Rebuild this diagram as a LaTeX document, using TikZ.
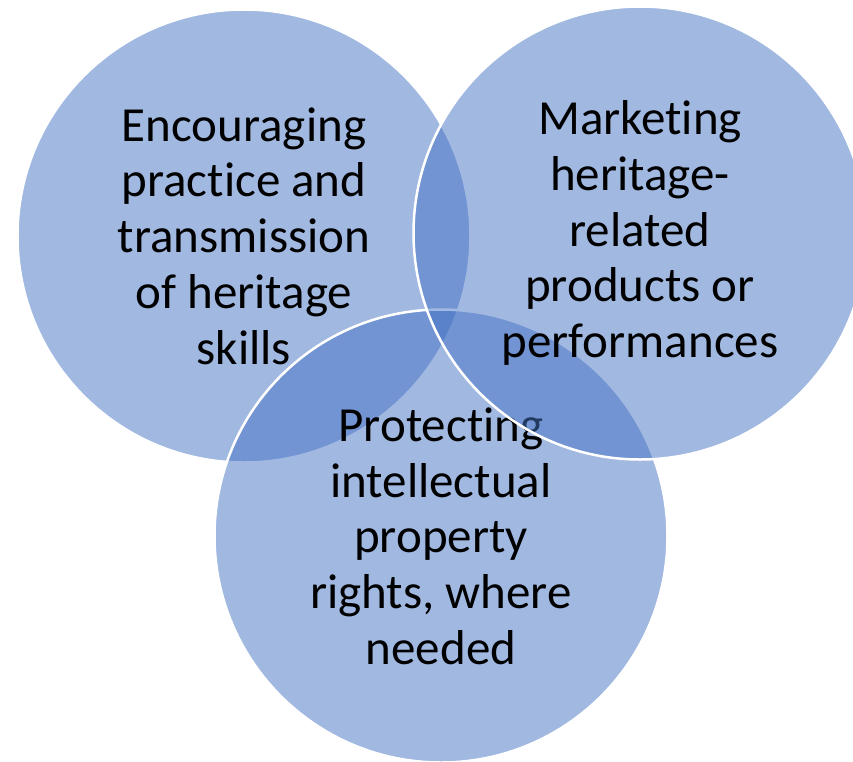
\documentclass[tikz,border=0pt]{standalone}
\usepackage{fontspec}
\setmainfont{Carlito}[Ligatures={NoCommon,NoContextual,NoRequired}, RawFeature={-calt}]
\usepackage{xcolor}
\usepackage{tikz}

\definecolor{accent}{HTML}{4472C4}

\begin{document}
\begin{tikzpicture}[x=1pt, y=-1pt,
    venn/.style={circle, minimum size=453pt, inner sep=0pt, fill=accent, fill opacity=0.5,
      text opacity=1, draw=white, line width=2.5pt, align=center,
      font=\fontsize{49}{55.7}\selectfont}]
    \useasboundingbox[fill=white] (0, 0) rectangle (853, 761);

    \node[venn] (skills) at (244, 236) {Encouraging\\practice and\\transmission\\of heritage\\skills};
    \node[venn] (rights) at (441, 536) {Protecting\\intellectual\\property\\rights, where\\needed};
    \node[venn] (market) at (640, 233) {Marketing\\heritage-\\related\\products or\\performances};
  \end{tikzpicture}
\end{document}
